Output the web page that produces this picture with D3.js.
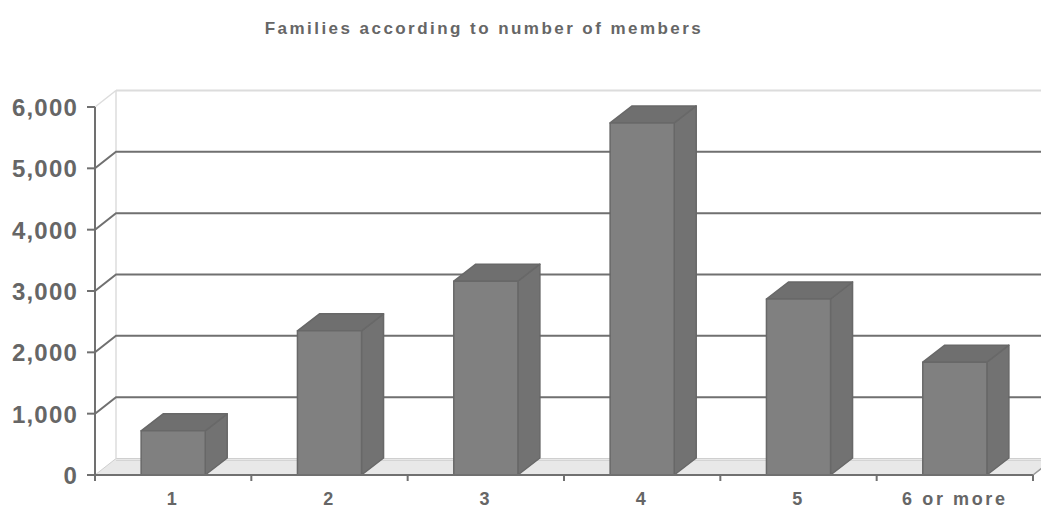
<!DOCTYPE html>
<html>
<head>
<meta charset="utf-8">
<script src="https://cdn.jsdelivr.net/npm/d3@7"></script>
<style>
  html, body { margin: 0; padding: 0; background: #fff; }
  svg { display: block; }
  text { font-family: "Liberation Sans", Arial, sans-serif; font-weight: bold; fill: #666; }
</style>
</head>
<body>
<svg id="chart" width="1041" height="509"></svg>
<script>
// Families grouped by household size
const categories = ["1", "2", "3", "4", "5", "6 or more"];
const families = [720, 2350, 3160, 5740, 2870, 1840];
const yTicks = [0, 1000, 2000, 3000, 4000, 5000, 6000];
const chartTitle = "Families according to number of members";

(function () {
const W = 1041;
const svg = d3.select("#chart");

const plotL = 95, plotR = 1033, plotB = 475, plotT = 107;
// oblique offset for the back wall and for the bars' depth
const wall = { dx: 21, dy: -16.5 };
const depth = { dx: 22, dy: -17 };

const x = d3.scaleBand().domain(categories).range([plotL, plotR]).padding(0);
const y = d3.scaleLinear().domain([0, 6000]).range([plotB, plotT]);
const barW = x.bandwidth() * 0.41;
const pts = a => a.map(p => p.join(",")).join(" ");

// title
svg.append("text")
  .attr("x", 484).attr("y", 34)
  .attr("text-anchor", "middle")
  .style("font-size", "17px")
  .style("letter-spacing", "2.45px")
  .text(chartTitle);

// floor
svg.append("polygon")
  .attr("points", pts([[plotL, plotB], [plotR, plotB], [plotR + wall.dx, plotB + wall.dy], [plotL + wall.dx, plotB + wall.dy]]))
  .attr("fill", "#e8e8e8").attr("stroke", "#cfcfcf").attr("stroke-width", 1);
svg.append("line")
  .attr("x1", plotL + wall.dx).attr("x2", W)
  .attr("y1", plotB + wall.dy + 2).attr("y2", plotB + wall.dy + 2)
  .attr("stroke", "#d4d4d4").attr("stroke-width", 1);

// back wall edges
svg.append("line")
  .attr("x1", plotL + wall.dx).attr("x2", plotL + wall.dx)
  .attr("y1", y(6000) + wall.dy).attr("y2", plotB + wall.dy)
  .attr("stroke", "#dcdcdc").attr("stroke-width", 1.5);
svg.append("line")
  .attr("x1", plotL).attr("y1", y(6000))
  .attr("x2", plotL + wall.dx).attr("y2", y(6000) + wall.dy)
  .attr("stroke", "#dcdcdc").attr("stroke-width", 1.5);
svg.append("line")
  .attr("x1", plotL + wall.dx).attr("x2", W)
  .attr("y1", y(6000) + wall.dy).attr("y2", y(6000) + wall.dy)
  .attr("stroke", "#dcdcdc").attr("stroke-width", 2);

// gridlines: side wall diagonal + back wall horizontal
const grid = svg.append("g");
yTicks.filter(v => v > 0 && v < 6000).forEach(v => {
  grid.append("polyline")
    .attr("points", `${plotL},${y(v)} ${plotL + wall.dx},${y(v) + wall.dy} ${W},${y(v) + wall.dy}`)
    .attr("fill", "none").attr("stroke", "#707070").attr("stroke-width", 2);
});

// bars
const bars = svg.append("g");
categories.forEach((c, i) => {
  const v = families[i];
  const x0 = x(c) + (x.bandwidth() - barW) / 2, x1 = x0 + barW;
  const y0 = y(0), y1 = y(v);
  const g = bars.append("g").attr("stroke", "#686868").attr("stroke-width", 1.5).attr("stroke-linejoin", "round");
  // side face
  g.append("polygon")
    .attr("points", pts([[x1, y0], [x1 + depth.dx, y0 + depth.dy], [x1 + depth.dx, y1 + depth.dy], [x1, y1]]))
    .attr("fill", "#727272");
  // top face
  g.append("polygon")
    .attr("points", pts([[x0, y1], [x1, y1], [x1 + depth.dx, y1 + depth.dy], [x0 + depth.dx, y1 + depth.dy]]))
    .attr("fill", "#6f6f6f");
  // front face
  g.append("rect")
    .attr("x", x0).attr("y", y1).attr("width", barW).attr("height", y0 - y1)
    .attr("fill", "#808080");
});

// value axis
const yAxis = svg.append("g");
yAxis.append("line")
  .attr("x1", plotL).attr("x2", plotL).attr("y1", y(6000)).attr("y2", plotB + 6)
  .attr("stroke", "#707070").attr("stroke-width", 2);
yTicks.forEach(v => {
  yAxis.append("line")
    .attr("x1", plotL - 8).attr("x2", plotL).attr("y1", y(v)).attr("y2", y(v))
    .attr("stroke", "#707070").attr("stroke-width", 2);
  yAxis.append("text")
    .attr("x", 78).attr("y", y(v) + 9)
    .attr("text-anchor", "end")
    .style("font-size", "24px")
    .style("letter-spacing", "1.2px")
    .text(d3.format(",")(v));
});

// category axis
const xAxis = svg.append("g");
xAxis.append("line")
  .attr("x1", plotL).attr("x2", plotR).attr("y1", plotB).attr("y2", plotB)
  .attr("stroke", "#707070").attr("stroke-width", 2);
xAxis.append("line")
  .attr("x1", plotR).attr("y1", plotB).attr("x2", plotR + wall.dx).attr("y2", plotB + wall.dy)
  .attr("stroke", "#9a9a9a").attr("stroke-width", 1.5);
categories.forEach(c => {
  const xb = x(c) + x.bandwidth();
  xAxis.append("line")
    .attr("x1", xb).attr("x2", xb).attr("y1", plotB).attr("y2", plotB + 6)
    .attr("stroke", "#707070").attr("stroke-width", 2);
  xAxis.append("text")
    .attr("x", x(c) + x.bandwidth() / 2).attr("y", 505)
    .attr("text-anchor", "middle")
    .style("font-size", "18px")
    .style("letter-spacing", "2.6px")
    .text(c);
});
})();
</script>
</body>
</html>
